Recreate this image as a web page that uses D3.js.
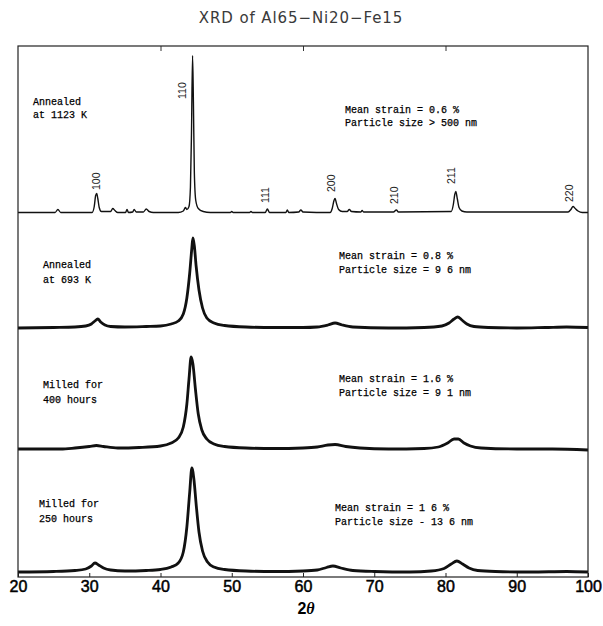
<!DOCTYPE html>
<html>
<head>
<meta charset="utf-8">
<script src="https://cdn.jsdelivr.net/npm/d3@7"></script>
<style>
  body { margin: 0; background: #fff; }
  svg { display: block; }
</style>
</head>
<body>
<div id="chart"></div>
<script>
// x ticks (2 theta, degrees)
var xTicks = [20, 30, 40, 50, 60, 70, 80, 90, 100];
var topTicks = [40, 60, 80];

// samples, top to bottom
var samples = ["Annealed\nat 1123 K", "Annealed\nat 693 K", "Milled for\n400 hours", "Milled for\n250 hours"];
var notes = [
  "Mean strain = 0.6 %\nParticle size > 500 nm",
  "Mean strain = 0.8 %\nParticle size = 9 6 nm",
  "Mean strain = 1.6 %\nParticle size = 9 1 nm",
  "Mean strain = 1 6 %\nParticle size - 13 6 nm"
];
// vertical offset of each pattern (a.u.)
var offsets = [364.5, 249, 128, 5];

// [2theta, intensity above baseline (a.u.)]
var annealed1123 = [[20,0],[25.2,0],[25.6,3],[26.0,0],[30.4,0],[30.7,6],[30.9,17],[31.05,19],[31.2,14],[31.4,5],[31.7,1],
  [33.0,1],[33.3,4],[33.6,2],[34.0,0],[35.1,0],[35.3,3],[35.5,0],[36.1,0.5],[36.3,3],[36.6,0.5],[37.6,0.5],[38.0,3.5],[38.4,1],
  [39,0],[42.5,0],[43.2,1.5],[43.5,5],[43.7,3],[44.0,6],[44.2,25],[44.35,80],[44.5,157],[44.62,110],[44.75,40],[44.95,12],
  [45.3,4],[46,1],[47,0],[49.8,0],[50,1],[50.2,0],[52.5,0],[52.7,1],[52.9,0],[54.7,0],[55.0,3.5],[55.3,0],[57.6,0],[57.8,2.5],[58.0,0],
  [59.4,0.5],[59.7,2.5],[60.0,0.5],[63.8,0],[64.1,4],[64.35,12],[64.5,14],[64.7,9],[65.0,3],[65.5,1],[66.2,1],[66.5,3],
  [66.8,1],[68.1,0.5],[68.3,2],[68.5,0.5],[72.7,0.5],[73.1,2.5],[73.4,0.5],[80.8,1],[81.1,8],[81.3,18],[81.45,21],
  [81.65,14],[81.9,5],[82.3,1.5],[83,0.5],[97.2,0.5],[97.6,3],[97.9,6],[98.2,4],[98.6,1.5],[99.2,0],[100,0]];

var annealed693 = [[20,0],[25,0.5],[28,1],[29.5,2],[30.3,4],[30.8,7],[31.2,9],[31.6,6],[32.2,3],[33,1.5],[35,1],[38,1.5],
  [40,2],[41.5,4],[42.5,7],[43.2,14],[43.7,30],[44.1,55],[44.4,80],[44.55,90],[44.75,82],[45.0,62],[45.4,38],[45.9,20],
  [46.5,10],[47.5,5],[49,2.5],[52,1],[56,0.5],[60,0.5],[62,1],[63.5,3],[64.5,5],[65.5,3],[67,1],[72,0],[77,0.5],
  [79.5,2],[80.5,5],[81.2,9],[81.7,11],[82.3,8],[83,4],[84,1.5],[86,0.5],[90,0],[94,0.5],[97,1],[100,0.5]];

var milled400 = [[20,0],[26,0],[28,1],[30,2.5],[31,3.5],[32,2.5],[34,1],[37,1.5],[40,3],[41.5,6],[42.5,11],[43.2,22],
  [43.7,45],[44.0,70],[44.3,92],[44.55,85],[44.9,60],[45.3,35],[45.8,19],[46.5,10],[47.5,5],[49,2.5],[52,1],[56,0.5],
  [60,1],[62,2],[63.5,4],[64.5,4.5],[66,2.5],[68,1],[72,0],[77,0.5],[79,2],[80.3,6],[81.2,10],[81.8,10],[82.6,6],
  [83.5,3],[85,1],[90,0],[95,0],[100,-1]];

var milled250 = [[20,0],[25,0.5],[28,1.5],[29.5,3],[30.3,6],[30.8,9],[31.3,7],[32,4],[33,2],[35,1],[38,1.5],[40,2.5],
  [41.5,5],[42.5,9],[43.2,20],[43.7,45],[44.1,80],[44.4,104],[44.7,92],[45.0,68],[45.4,40],[45.9,21],[46.6,10],[47.5,5],
  [49,2.5],[52,1],[56,0.5],[60,1],[62,2],[63.3,4.5],[64.2,6],[65.3,4],[67,1.5],[70,0.5],[75,0],[78,1],[79.8,3.5],
  [80.8,8],[81.6,11],[82.4,8],[83.3,4],[84.5,1.5],[87,0.5],[92,0],[97,0.5],[100,0]];

var patterns = [annealed1123, annealed693, milled400, milled250];

// reflections marked on the top pattern: hkl, label 2theta, label foot (a.u. above baseline)
var hkl = ["100", "110", "111", "200", "210", "211", "220"];
var hklPos = [31.0, 43.0, 54.7, 63.9, 72.8, 80.8, 97.4];
var hklFoot = [22.5, 113.5, 9.5, 20.5, 8.5, 28.5, 10.5];

var W = 603, H = 626;
var frame = {left: 18, right: 588, top: 46, bottom: 577};

var svg = d3.select("#chart").append("svg").attr("width", W).attr("height", H);

var x = d3.scaleLinear().domain([20, 100]).range([frame.left, frame.right]);
var y = d3.scaleLinear().domain([0, 531]).range([frame.bottom, frame.top]);

// title
svg.append("text")
  .attr("x", 301).attr("y", 23)
  .attr("text-anchor", "middle")
  .style("font-family", "'DejaVu Sans', sans-serif")
  .style("font-size", "15px")
  .style("letter-spacing", "0.9px")
  .style("fill", "#3a3a3a")
  .text("XRD of Al65\u2212Ni20\u2212Fe15");

svg.append("clipPath").attr("id", "clip")
  .append("rect")
  .attr("x", frame.left).attr("y", frame.top)
  .attr("width", frame.right - frame.left).attr("height", frame.bottom - frame.top);

var line = d3.line().curve(d3.curveMonotoneX);

var g = svg.append("g").attr("clip-path", "url(#clip)");
patterns.forEach(function(p, i) {
  line.x(function(d) { return x(d[0]); })
      .y(function(d) { return y(d[1] + offsets[i]); });
  g.append("path")
    .attr("d", line(p))
    .attr("fill", "none")
    .attr("stroke", "#111")
    .attr("stroke-width", i == 0 ? 1.4 : 2.8)
    .attr("stroke-linejoin", "round");
});

// hkl labels, rotated
hkl.forEach(function(h, i) {
  var px = x(hklPos[i]), py = y(offsets[0] + hklFoot[i]);
  svg.append("text")
    .attr("transform", "translate(" + px + "," + py + ") rotate(-90)")
    .attr("dy", "0.36em")
    .style("font-family", "'Liberation Sans', Arial, sans-serif")
    .style("font-size", "10.5px")
    .style("fill", "#222")
    .text(h);
});

// sample names and strain notes
var namePos = [[33, 105], [43, 268], [43, 388], [39, 507]];
var notePos = [[345, 113], [339, 259], [339, 382], [335, 511]];

function block(str, pos, lh) {
  var t = svg.append("text")
    .style("font-family", "'Liberation Mono', 'Courier New', monospace")
    .style("font-size", "10px")
    .style("fill", "#000")
    .style("stroke", "#000")
    .style("stroke-width", 0.25);
  str.split("\n").forEach(function(s, k) {
    t.append("tspan").attr("x", pos[0]).attr("y", pos[1] + k * lh).text(s);
  });
}
samples.forEach(function(s, i) { block(s, namePos[i], i == 0 ? 13 : 14.5); });
notes.forEach(function(s, i) { block(s, notePos[i], i == 0 ? 13 : 14); });

// axes
var bottomAxis = svg.append("g")
  .attr("transform", "translate(0," + frame.bottom + ")")
  .call(d3.axisBottom(x).tickValues(xTicks).tickSizeInner(-4).tickSizeOuter(0).tickPadding(4));
bottomAxis.select(".domain").remove();
bottomAxis.selectAll("line").attr("stroke", "#222");
bottomAxis.selectAll("text")
  .style("font-family", "'Liberation Sans', Arial, sans-serif")
  .style("font-size", "16px")
  .style("fill", "#000")
  .style("stroke", "#000")
  .style("stroke-width", 0.5);

var topAxis = svg.append("g")
  .attr("transform", "translate(0," + frame.top + ")")
  .call(d3.axisTop(x).tickValues(topTicks).tickSizeInner(-5).tickSizeOuter(0).tickFormat(""));
topAxis.select(".domain").remove();
topAxis.selectAll("line").attr("stroke", "#333");

svg.append("rect")
  .attr("x", frame.left).attr("y", frame.top)
  .attr("width", frame.right - frame.left).attr("height", frame.bottom - frame.top)
  .attr("fill", "none").attr("stroke", "#222").attr("stroke-width", 1.2);

// x label: 2 theta
var xl = svg.append("text")
  .attr("x", 306).attr("y", 614)
  .attr("text-anchor", "middle")
  .style("font-size", "16px")
  .style("font-weight", "bold")
  .style("fill", "#000");
xl.append("tspan").style("font-family", "'Liberation Sans', Arial, sans-serif").text("2");
xl.append("tspan").style("font-family", "'Liberation Serif', serif").style("font-style", "italic").text("\u03b8");
</script>
</body>
</html>
